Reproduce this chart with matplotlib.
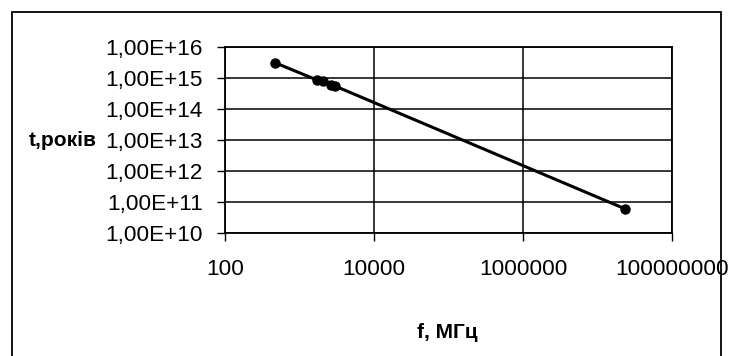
import matplotlib
matplotlib.use('Agg')
import matplotlib.pyplot as plt
from matplotlib.patches import Rectangle
from matplotlib.ticker import NullLocator

plt.rcParams['font.family'] = ['Liberation Sans', 'DejaVu Sans']

# data
f_mhz = [470, 1700, 2070, 2630, 3000, 2.35e7]
t_years = [3.1e15, 8.7e14, 8.0e14, 6.0e14, 5.5e14, 6.0e10]

yticks = [1e10, 1e11, 1e12, 1e13, 1e14, 1e15, 1e16]
ytick_labels = ['1,00E+10', '1,00E+11', '1,00E+12', '1,00E+13',
                '1,00E+14', '1,00E+15', '1,00E+16']
xticks = [1e2, 1e4, 1e6, 1e8]
xtick_labels = ['100', '10000', '1000000', '100000000']

W, H = 730, 356
fig = plt.figure(figsize=(W / 100, H / 100), dpi=100)
ax = fig.add_axes([225 / W, 1 - 233 / H, (672 - 225) / W, (233 - 47) / H])

ax.plot(f_mhz, t_years, color='black', lw=2.2, marker='o', ms=6.5,
        markerfacecolor='black', markeredgecolor='black')

ax.set_xscale('log')
ax.set_yscale('log')
ax.set_xlim(1e2, 1e8)
ax.set_ylim(1e10, 1e16)
ax.set_yticks(yticks)
ax.set_yticklabels(ytick_labels)
ax.set_xticks(xticks)
ax.set_xticklabels(xtick_labels)
ax.xaxis.set_minor_locator(NullLocator())
ax.yaxis.set_minor_locator(NullLocator())
ax.tick_params(axis='both', which='major', labelsize=16.2, length=6,
               width=1, color='black')
ax.tick_params(axis='y', pad=10)
ax.tick_params(axis='x', pad=13)
ax.grid(True, color='black', lw=1.1)
ax.set_axisbelow(True)
for s in ax.spines.values():
    s.set_color('black')
    s.set_linewidth(1.3)

fig.text(97 / W, 1 - 140 / H, 't,років', ha='right', va='center',
         fontsize=15, fontweight='bold')
fig.text(447 / W, 1 - 333 / H, 'f, МГц', ha='center', va='center',
         fontsize=15, fontweight='bold')

# outer chart border (bottom edge is cut off in the reference)
fig.patches.append(Rectangle((12 / W, -0.1), (721 - 12) / W, 1.1 - 12 / H,
                             transform=fig.transFigure, fill=False,
                             edgecolor='black', lw=1.3, clip_on=False))

fig.savefig('out.png', dpi=100)
